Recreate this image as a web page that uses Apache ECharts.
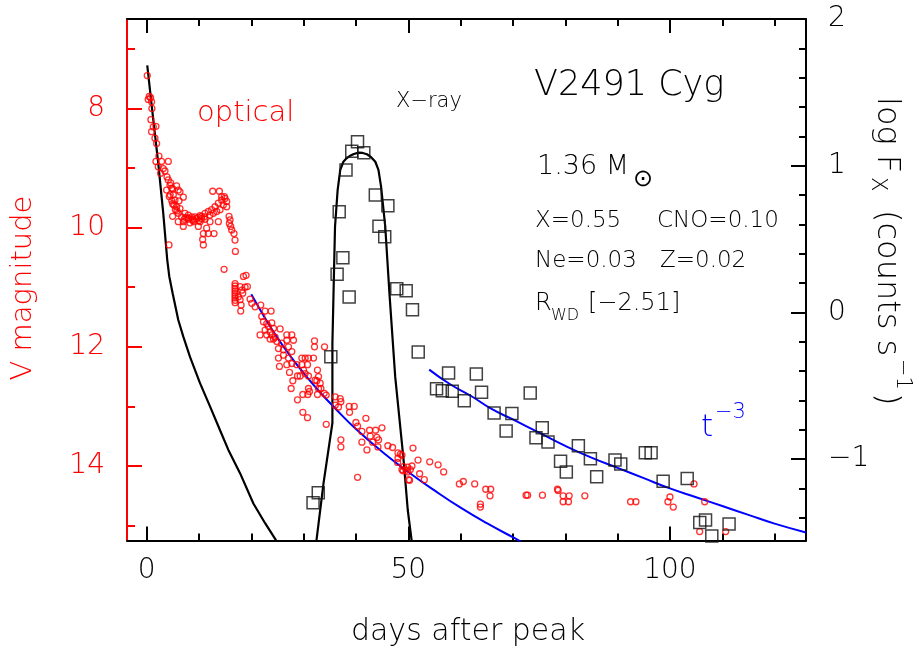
<!DOCTYPE html>
<html>
<head>
<meta charset="utf-8">
<script src="https://cdn.jsdelivr.net/npm/echarts@6/dist/echarts.min.js"></script>
<style>
html,body{margin:0;padding:0;background:#fff;}
#chart{width:919px;height:652px;}
</style>
</head>
<body>
<div id="chart"></div>
<script>
// ---- tick values ----
const xMajorTicks = [0, 50, 100];
const xMinorTicks = [10, 20, 30, 40, 60, 70, 80, 90, 110, 120];
const magMajorTicks = [8, 10, 12, 14];
const magMinorTicks = [7, 9, 11, 13, 15];
const fxMajorTicks = [-1, 0, 1, 2];
const fxMinorTicks = [-1.4, -1.2, -0.8, -0.6, -0.4, -0.2, 0.2, 0.4, 0.6, 0.8, 1.2, 1.4, 1.6, 1.8];

// ---- optical V magnitudes (red circles) ----
const optDay = [
0.12,0.50,0.76,0.31,0.95,1.01,0.82,1.27,0.95,1.78,1.59,1.91,2.35,1.78,2.86,4.14,2.23,3.18,2.67,4.14,
4.46,3.82,4.78,5.73,6.05,4.33,5.10,6.37,5.41,7.01,4.97,5.73,6.37,6.05,4.97,6.69,7.33,7.97,8.60,9.24,
9.88,10.52,11.16,11.79,12.43,13.07,13.71,14.34,14.98,15.30,14.66,14.03,13.39,12.75,12.11,11.16,10.20,8.92,8.28,7.97,
7.01,6.05,7.01,9.88,11.47,10.84,11.79,12.88,10.71,10.84,4.27,12.62,13.90,14.85,15.30,15.75,15.94,15.81,16.07,16.26,
16.70,16.89,16.96,13.71,12.11,14.34,4.5,4.8,5.2,5.5,5.8,6.2,5.0,4.6,3.9,3.5,
8.0,8.8,9.5,10.0,10.5,9.0,7.5,11.0,10.2,7.2,
14.8,18.5,19.0,16.9,16.9,16.9,16.9,16.9,16.9,16.9,16.9,16.9,
17.86,18.18,18.81,19.26,18.37,17.54,17.86,18.05,17.98,19.77,20.09,20.73,21.81,22.64,23.79,22.00,22.32,22.96,23.92,23.28,
24.24,22.64,23.60,21.68,22.96,23.92,24.55,25.51,26.79,27.74,26.79,28.06,24.87,25.83,24.24,23.60,25.19,26.15,27.11,27.74,
26.15,25.19,27.11,26.79,25.38,27.74,29.66,30.29,30.93,31.89,28.70,29.66,30.74,29.98,29.34,28.83,30.93,30.29,27.30,32.65,
32.08,32.08,34.00,27.94,27.62,32.85,32.53,33.16,32.85,30.93,29.85,30.80,31.12,32.65,33.93,34.31,28.83,29.85,30.74,36.04,
36.99,36.04,36.67,38.71,39.67,38.78,41.90,32.21,33.30,34.32,37.12,39.99,40.31,41.14,42.61,43.75,44.97,42.73,44.01,44.33,
43.18,41.14,37.12,37.12,42.10,44.20,46.10,47.00,50.90,48.03,48.50,48.03,47.96,49.10,49.90,50.40,49.00,49.90,50.70,51.86,
54.10,55.70,50.07,52.17,53.07,40.31,48.79,48.79,49.60,50.25,56.76,59.76,60.52,62.69,64.80,65.75,63.78,63.78,65.62,72.51,
72.80,75.64,78.51,78.64,79.59,80.74,79.59,80.61,83.74,92.48,93.50,99.62,100.00,100.64,104.60,106.64,105.68,110.65
];
const optMag = [
7.45,7.80,7.82,7.85,7.89,8.00,8.19,8.31,8.39,8.30,8.50,8.59,8.80,8.89,8.89,8.89,8.98,9.01,9.09,9.20,
9.29,9.37,9.34,9.30,9.37,9.48,9.45,9.40,9.54,9.49,9.60,9.65,9.68,9.76,9.81,9.82,9.76,9.79,9.82,9.82,
9.83,9.81,9.76,9.73,9.70,9.65,9.59,9.54,9.51,9.56,9.62,9.70,9.73,9.76,9.79,9.86,9.90,9.88,9.92,9.86,
9.90,9.90,9.98,9.98,10.01,10.10,10.10,10.10,10.20,10.29,10.29,9.39,9.39,9.48,9.65,9.81,9.87,9.93,9.98,10.04,
10.10,10.21,10.40,9.90,9.90,9.48,9.45,9.55,9.62,9.70,9.72,9.55,9.35,9.25,9.15,9.05,
9.84,9.86,9.85,9.88,9.85,9.90,9.83,9.82,9.80,9.86,
10.70,10.82,10.80,10.94,10.98,11.02,11.06,11.10,11.14,11.18,11.22,11.26,
10.99,11.05,11.00,10.99,11.10,11.16,11.21,11.30,11.40,11.20,11.27,11.33,11.30,11.40,11.40,11.49,11.58,11.61,11.60,11.66,
11.69,11.72,11.75,11.80,11.80,11.80,11.84,11.70,11.80,11.80,11.89,11.89,11.91,11.94,11.87,11.87,12.03,12.05,12.00,12.08,
12.14,12.19,12.19,12.30,12.33,12.28,12.19,12.19,12.19,12.19,12.30,12.30,12.30,12.39,12.49,12.49,12.49,12.45,12.43,12.39,
11.90,12.00,12.00,12.57,12.70,12.50,12.57,12.61,12.70,12.70,12.80,12.80,12.75,12.80,12.78,12.81,12.89,13.10,13.19,12.84,
12.87,12.98,13.01,13.00,13.00,13.10,13.20,12.56,12.70,13.30,12.92,13.27,13.33,13.42,13.40,13.40,13.36,13.50,13.52,13.56,
13.60,13.60,13.56,13.68,13.73,13.68,13.66,13.69,13.70,13.78,13.80,13.87,13.94,14.01,14.02,14.06,14.08,14.10,14.00,13.90,
13.93,13.98,14.23,14.13,14.23,14.19,13.82,14.06,14.07,14.24,14.10,14.30,14.26,14.30,14.39,14.39,14.64,14.69,14.50,14.49,
14.49,14.49,14.39,14.41,14.50,14.50,14.60,14.60,14.50,14.60,14.60,14.60,14.52,14.69,14.30,14.60,15.10,15.10
];

// ---- X-ray fluxes (black squares), log F_X ----
const xrayDay = [31.8,32.8,35.2,36.4,36.8,37.5,38.1,38.7,39.2,40.3,41.5,43.7,44.4,45.5,46.1,47.8,49.6,50.8,51.9,
55.4,56.5,57.7,58.4,60.7,63.0,64.0,66.4,68.7,69.8,73.3,74.4,75.6,76.7,79.1,80.2,82.5,84.8,86.0,89.5,90.6,
95.3,96.4,98.7,103.3,105.7,106.8,108.0,111.3];
const xrayLogF = [-1.298,-1.230,-0.302,0.260,0.686,0.373,0.971,0.105,1.098,1.164,1.089,0.800,0.587,0.516,0.727,0.162,0.148,0.018,-0.270,
-0.520,-0.534,-0.413,-0.538,-0.602,-0.420,-0.545,-0.686,-0.808,-0.690,-0.549,-0.854,-0.786,-0.883,-1.015,-1.088,-0.909,-0.997,-1.120,-1.006,-1.033,
-0.956,-0.956,-1.151,-1.133,-1.433,-1.415,-1.524,-1.443];

// ---- model light curves (black lines) ----
const modelOptDay = [0.12,1.27,2.22,3.18,3.94,4.33,4.97,6.05,7.01,8.29,10.2,12.11,14.03,15.62,17.85,20.4,22.64,24.68,25.2];
const modelOptMag = [7.28,8.19,8.92,9.76,10.54,10.82,11.10,11.55,11.83,12.17,12.61,13.00,13.40,13.73,14.12,14.63,14.96,15.24,15.33];
const modelXDay = [32.3,33.8,35.5,35.5,35.7,36.0,36.5,37.0,37.6,38.2,38.9,39.6,40.5,41.3,42.1,42.9,43.7,44.3,44.8,45.6,46.4,47.5,49.1,49.9,50.8];
const modelXLogF = [-1.60,-1.165,-0.754,-0.211,0.107,0.584,0.834,0.971,1.027,1.050,1.068,1.080,1.089,1.087,1.078,1.058,1.027,0.971,0.857,0.584,0.130,-0.438,-1.006,-1.347,-1.60];

// ---- t^-3 lines (blue) ----
const fitOptDay = [20,22.5,25,27.5,30,33,36,40,45,50,55,60,65,70.5,71.5];
const fitOptMag = [11.12,11.50,11.85,12.16,12.44,12.75,13.03,13.38,13.76,14.10,14.41,14.70,14.96,15.22,15.27];
const fitXDay = [54,58,62,66,70,75,80,85,90,95,100,105,110,115,120,126];
const fitXLogF = [-0.39,-0.49,-0.57,-0.66,-0.73,-0.82,-0.91,-0.99,-1.06,-1.13,-1.20,-1.26,-1.32,-1.38,-1.44,-1.50];

const zip = (a, b) => a.map((v, i) => [v, b[i]]);

const FONT = '"DejaVu Sans", "Liberation Sans", sans-serif';
const FW = 200;
const XMIN = -3.75, XMAX = 126;
const MAGMIN = 6.5, MAGMAX = 15.25;
const FXMIN = -1.555, FXMAX = 2;

function xAxisDef(pos, ticks, len, showLine, labels) {
  return {
    type: 'value', position: pos, min: XMIN, max: XMAX, gridIndex: 0,
    axisLine: { show: showLine, onZero: false, lineStyle: { color: '#000', width: 2 } },
    axisTick: { show: true, inside: true, length: len, customValues: ticks, lineStyle: { color: '#000', width: 2 } },
    axisLabel: labels ? { show: true, customValues: ticks, color: '#000', fontSize: 28, fontWeight: FW, fontFamily: FONT, margin: 16 } : { show: false },
    splitLine: { show: false }
  };
}
function yAxisDef(pos, min, max, inverse, ticks, len, color, showLine, labels, fmt, margin) {
  return {
    type: 'value', position: pos, min: min, max: max, inverse: inverse, gridIndex: 0,
    axisLine: { show: showLine, onZero: false, lineStyle: { color: color, width: 2 } },
    axisTick: { show: true, inside: true, length: len, customValues: ticks, lineStyle: { color: color, width: 2 } },
    axisLabel: labels ? { show: true, customValues: ticks, color: color, fontSize: 28, fontWeight: FW, fontFamily: FONT, margin: margin, formatter: fmt } : { show: false },
    splitLine: { show: false }
  };
}

const chart = echarts.init(document.getElementById('chart'), null, { renderer: 'canvas' });

function txt(text, x, y, size, color, align) {
  return {
    type: 'text', x: x, y: y, silent: true,
    style: { text: text, x: 0, y: 0, fill: color || '#000', font: FW + ' ' + size + 'px ' + FONT,
      textAlign: align || 'left', textVerticalAlign: 'middle', align: align || 'left', verticalAlign: 'middle' }
  };
}

const option = {
  animation: false,
  backgroundColor: '#fff',
  grid: { left: 127, top: 19, width: 679, height: 521.5, containLabel: false },
  xAxis: [
    xAxisDef('bottom', xMajorTicks, 14, true, true),
    xAxisDef('bottom', xMinorTicks, 7, false, false),
    xAxisDef('top', xMajorTicks, 14, true, false),
    xAxisDef('top', xMinorTicks, 7, false, false)
  ],
  yAxis: [
    yAxisDef('left', MAGMIN, MAGMAX, true, magMajorTicks, 15, '#ff0000', true, true, null, 22),
    yAxisDef('left', MAGMIN, MAGMAX, true, magMinorTicks, 8, '#ff0000', false, false, null, 22),
    yAxisDef('right', FXMIN, FXMAX, false, fxMajorTicks, 15, '#000', true, true,
      v => (v < 0 ? '\u2212' + Math.abs(v) : String(v)), 22),
    yAxisDef('right', FXMIN, FXMAX, false, fxMinorTicks, 7, '#000', false, false, null, 22)
  ],
  series: [
    { name: 'model optical', type: 'line', xAxisIndex: 0, yAxisIndex: 0, data: zip(modelOptDay, modelOptMag),
      showSymbol: false, symbol: 'none', smooth: false, clip: true, lineStyle: { color: '#000', width: 2.2 }, z: 3 },
    { name: 'model X-ray', type: 'line', xAxisIndex: 0, yAxisIndex: 2, data: zip(modelXDay, modelXLogF),
      showSymbol: false, symbol: 'none', smooth: false, clip: true, lineStyle: { color: '#000', width: 2.2 }, z: 3 },
    { name: 't-3 optical', type: 'line', xAxisIndex: 0, yAxisIndex: 0, data: zip(fitOptDay, fitOptMag),
      showSymbol: false, symbol: 'none', smooth: true, clip: true, lineStyle: { color: '#0000ff', width: 2 }, z: 4 },
    { name: 't-3 X-ray', type: 'line', xAxisIndex: 0, yAxisIndex: 2, data: zip(fitXDay, fitXLogF),
      showSymbol: false, symbol: 'none', smooth: true, clip: true, lineStyle: { color: '#0000ff', width: 2 }, z: 4 },
    { name: 'optical', type: 'scatter', xAxisIndex: 0, yAxisIndex: 0, data: zip(optDay, optMag),
      symbol: 'circle', symbolSize: 6, clip: true,
      itemStyle: { color: 'rgba(0,0,0,0)', borderColor: '#ff0000', borderWidth: 1.3 }, z: 5 },
    { name: 'X-ray', type: 'scatter', xAxisIndex: 0, yAxisIndex: 2, data: zip(xrayDay, xrayLogF),
      symbol: 'rect', symbolSize: 12, clip: true,
      itemStyle: { color: 'rgba(0,0,0,0)', borderColor: '#111', borderWidth: 1.5 }, z: 6 }
  ],
  graphic: [
    txt('V2491 Cyg', 534, 86, 35),
    txt('X\u2212ray', 396, 102, 21),
    txt('1.36 M', 537, 167, 27),
    txt('\u2299', 633, 180, 24),
    txt('X=0.55', 535, 221, 23),
    txt('CNO=0.10', 657, 221, 23),
    txt('Ne=0.03', 535, 261, 23),
    txt('Z=0.02', 660, 261, 23),
    txt('R', 535, 304, 24),
    txt('WD', 551, 316, 16),
    txt('[\u22122.51]', 588, 304, 24),
    txt('t', 701, 428, 31, '#0000ff'),
    txt('\u22123', 715, 413, 21, '#0000ff'),
    txt('optical', 197, 113, 29, '#ff0000'),
    txt('days after peak', 468, 632, 30, '#000', 'center'),
    { type: 'text', x: 23, y: 288, rotation: Math.PI / 2, silent: true,
      style: { text: 'V magnitude', x: 0, y: 0, fill: '#ff0000', font: FW + ' 29px ' + FONT,
        textAlign: 'center', textVerticalAlign: 'middle', align: 'center', verticalAlign: 'middle' } },
    { type: 'group', x: 886, y: 97, rotation: -Math.PI / 2, silent: true,
      children: [
        txt('log F', 0, 0, 32),
        txt('X', 80, 9, 21),
        txt('(counts s', 113, 0, 32),
        txt('\u22121', 262, -16, 21),
        txt(')', 296, 0, 32)
      ] }
  ]
};
chart.setOption(option);
</script>
</body>
</html>
